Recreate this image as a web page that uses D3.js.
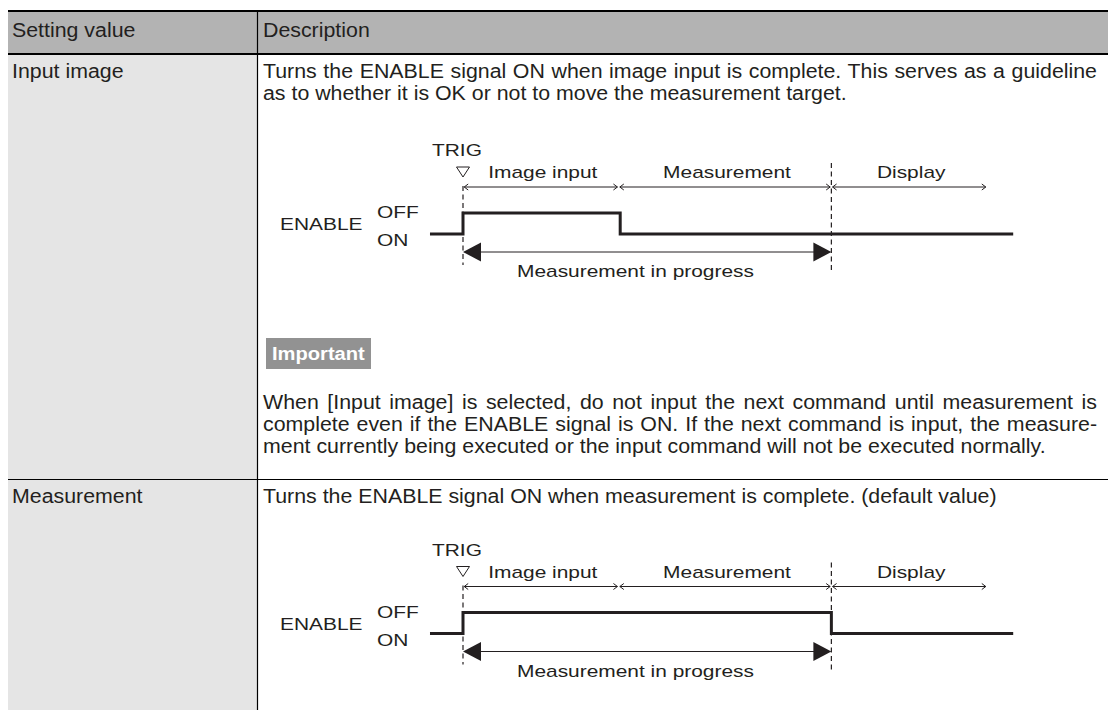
<!DOCTYPE html>
<html><head><meta charset="utf-8">
<script src="https://cdn.jsdelivr.net/npm/d3@7"></script>
<style>html,body{margin:0;padding:0;background:#fff;} svg{display:block;}</style>
</head><body>
<svg id="chart" width="1108" height="710"></svg>
<script>
// ---------------- data ----------------
const columnHeaders = ["Setting value", "Description"];
const settingValues = ["Input image", "Measurement"];
const descriptionLines = [
  ["Turns the ENABLE signal ON when image input is complete. This serves as a guideline",
   "as to whether it is OK or not to move the measurement target."],
  ["Turns the ENABLE signal ON when measurement is complete. (default value)"]
];
const descriptionJustified = [[true, false], [false]];
const noteLabel = "Important";
const noteLines = [
  "When [Input image] is selected, do not input the next command until measurement is",
  "complete even if the ENABLE signal is ON. If the next command is input, the measure-",
  "ment currently being executed or the input command will not be executed normally."
];
const noteJustified = [true, true, false];
const triggerLabel = "TRIG";
const signalName = "ENABLE";
const signalLevels = ["OFF", "ON"];
const phaseNames = ["Image input", "Measurement", "Display"];
const phaseBounds = [0, 2.97, 7.03, 10];          // time units, TRIG at 0
const enableSignals = [                            // [time, level] steps per row
  [[-0.63, "ON"], [0, "OFF"], [3.0, "ON"], [10.5, "ON"]],
  [[-0.63, "ON"], [0, "OFF"], [7.03, "ON"], [10.5, "ON"]]
];
const progressSpan = [0, 7.03];
const progressLabel = "Measurement in progress";

// ---------------- layout ----------------
const svg = d3.select("#chart");
const ink = "#231f20";
const FONT = "'Liberation Sans', Arial, Helvetica, sans-serif";
const tableX = 8, colX = 257, tableR = 1108, tableB = 710;
const headerTop = 11, headerBottom = 54, rowSep = 479;
const textX = 263, textR = 1097;
const BODY = {fs: 19.5, sx: 1.095};
const DIAG = {fs: 17, sx: 1.23};

function textLine(g, str, x, y, opt) {
  const sx = opt.sx || 1;
  const t = g.append("text")
    .attr("transform", `translate(${x},${y}) scale(${sx},1)`)
    .attr("font-family", FONT)
    .attr("font-size", opt.fs)
    .attr("font-weight", opt.weight || null)
    .attr("text-anchor", opt.anchor || "start")
    .attr("fill", opt.fill || ink)
    .text(str);
  if (opt.justify) {
    const nat = t.node().getComputedTextLength();
    const n = (str.match(/ /g) || []).length;
    const extra = (opt.justify / sx - nat) / n;
    if (n && extra > 0) t.style("word-spacing", extra + "px");
    else if (n && extra < 0) t.attr("textLength", opt.justify / sx).attr("lengthAdjust", "spacingAndGlyphs");
  }
  return t;
}

// backgrounds
svg.append("rect").attr("x", tableX).attr("y", headerTop).attr("width", tableR - tableX)
  .attr("height", headerBottom - headerTop).attr("fill", "#b3b3b3");
svg.append("rect").attr("x", tableX).attr("y", headerBottom).attr("width", colX - tableX)
  .attr("height", tableB - headerBottom).attr("fill", "#e5e5e5");

// rules
svg.append("line").attr("x1", tableX).attr("x2", tableR).attr("y1", headerTop).attr("y2", headerTop)
  .attr("stroke", "#000").attr("stroke-width", 2);
svg.append("line").attr("x1", tableX).attr("x2", tableR).attr("y1", headerBottom).attr("y2", headerBottom)
  .attr("stroke", "#000").attr("stroke-width", 2);
svg.append("line").attr("x1", tableX).attr("x2", tableR).attr("y1", rowSep + 0.5).attr("y2", rowSep + 0.5)
  .attr("stroke", "#000").attr("stroke-width", 1);
svg.append("line").attr("x1", colX + 0.5).attr("x2", colX + 0.5).attr("y1", headerTop).attr("y2", tableB)
  .attr("stroke", "#000").attr("stroke-width", 1.2);

const g = svg.append("g");
// header
textLine(g, columnHeaders[0], 12, 37, BODY);
textLine(g, columnHeaders[1], textX, 37, BODY);

// rows text
const rowBaselines = [78, 503];
const lineGap = 22;
settingValues.forEach((s, i) => {
  textLine(g, s, 12, rowBaselines[i], BODY);
  descriptionLines[i].forEach((ln, j) => {
    textLine(g, ln, textX, rowBaselines[i] + j * lineGap,
      Object.assign({}, BODY, {justify: descriptionJustified[i][j] ? textR - textX : null}));
  });
});

// Important note
g.append("rect").attr("x", 266).attr("y", 338).attr("width", 105).attr("height", 31).attr("fill", "#929292");
textLine(g, noteLabel, 272, 360, {fs: 19, sx: 1.06, weight: "bold", fill: "#fff"});
const noteTop = 409;
noteLines.forEach((ln, j) => {
  textLine(g, ln, textX, noteTop + j * lineGap,
    Object.assign({}, BODY, {justify: noteJustified[j] ? textR - textX : null}));
});

// ---------------- timing diagrams ----------------
const x = d3.scaleLinear().domain([0, 10]).range([463, 987]);
const diagramTops = [156, 555.5];

function drawDiagram(y0, steps) {
  const d = svg.append("g");
  const yl = d3.scalePoint().domain(signalLevels).range([y0 + 57, y0 + 78]);

  // TRIG label + marker
  textLine(d, triggerLabel, 432, y0, DIAG);
  const tx = x(0);
  d.append("path").attr("d", `M${tx - 6.5},${y0 + 11}L${tx + 6.5},${y0 + 11}L${tx},${y0 + 21}Z`)
    .attr("fill", "#fff").attr("stroke", ink).attr("stroke-width", 1);

  // phase labels and arrows
  const ay = y0 + 31;
  phaseNames.forEach((p, i) => {
    const a = x(phaseBounds[i]), b = x(phaseBounds[i + 1]);
    textLine(d, p, (a + b) / 2 + 2, y0 + 22, Object.assign({}, DIAG, {anchor: "middle"}));
    const x1 = a + 1.2, x2 = b - 1.2;
    d.append("path")
      .attr("d", `M${x1},${ay}H${x2}M${x1 + 4},${ay - 3}L${x1},${ay}L${x1 + 4},${ay + 3}M${x2 - 4},${ay - 3}L${x2},${ay}L${x2 - 4},${ay + 3}`)
      .attr("fill", "none").attr("stroke", ink).attr("stroke-width", 1);
  });

  // dashed timing guides
  d.append("line").attr("x1", x(0)).attr("x2", x(0)).attr("y1", y0 + 30).attr("y2", y0 + 109)
    .attr("stroke", ink).attr("stroke-width", 1.2).attr("stroke-dasharray", "5,3.5");
  d.append("line").attr("x1", x(progressSpan[1])).attr("x2", x(progressSpan[1]))
    .attr("y1", y0 + 7).attr("y2", y0 + 114)
    .attr("stroke", ink).attr("stroke-width", 1.2).attr("stroke-dasharray", "5,3.5");

  // signal labels
  textLine(d, signalName, 280, y0 + 74, DIAG);
  textLine(d, signalLevels[0], 377, y0 + 62, DIAG);
  textLine(d, signalLevels[1], 377, y0 + 90, DIAG);

  // signal waveform
  const line = d3.line().x(s => x(s[0])).y(s => yl(s[1])).curve(d3.curveStepAfter);
  d.append("path").attr("d", line(steps)).attr("fill", "none").attr("stroke", ink)
    .attr("stroke-width", 3).attr("stroke-linejoin", "miter");

  // measurement in progress arrow
  const my = y0 + 96, p1 = x(progressSpan[0]), p2 = x(progressSpan[1]);
  d.append("line").attr("x1", p1 + 10).attr("x2", p2 - 10).attr("y1", my).attr("y2", my)
    .attr("stroke", ink).attr("stroke-width", 1);
  d.append("path").attr("d", `M${p1},${my}L${p1 + 18},${my - 9.5}L${p1 + 18},${my + 9.5}Z`).attr("fill", ink);
  d.append("path").attr("d", `M${p2},${my}L${p2 - 18},${my - 9.5}L${p2 - 18},${my + 9.5}Z`).attr("fill", ink);
  textLine(d, progressLabel, 517, y0 + 121, DIAG);
}
diagramTops.forEach((y0, i) => drawDiagram(y0, enableSignals[i]));
</script>
</body></html>
